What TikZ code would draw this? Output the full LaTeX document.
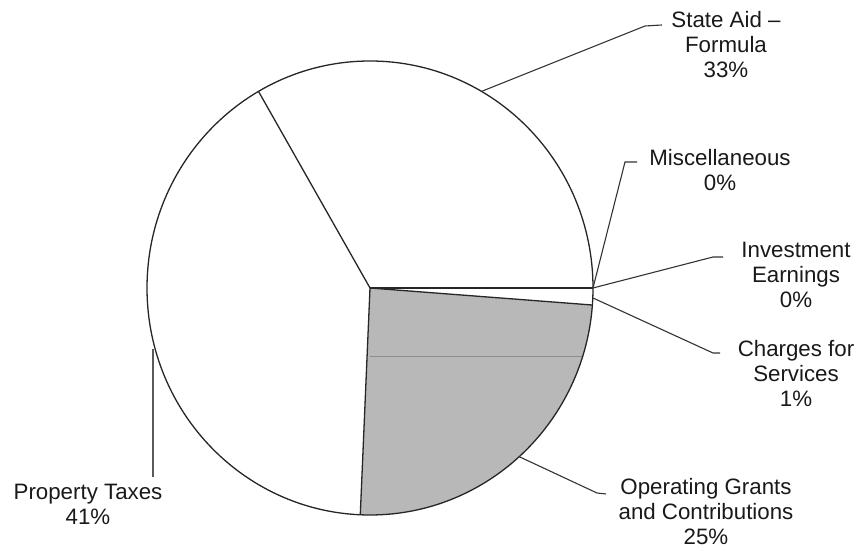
\documentclass[tikz,border=0pt]{standalone}
\usepackage{fontspec}
\setmainfont{Liberation Sans}
\begin{document}
\begin{tikzpicture}[x=1pt,y=1pt,
  lbl/.style={align=center,font=\fontsize{22.3pt}{25pt}\selectfont,text=black!90,inner sep=0pt},
  edge/.style={line width=1.3pt,black!85},
  lead/.style={line width=1.1pt,black!80}]
\useasboundingbox (0,0) rectangle (856,548);
\coordinate (C) at (370,260);
\def\rx{223}\def\ry{227}
% gray slice
\fill[black!28] (C) -- ({370+\rx*cos(267.5)},{260+\ry*sin(267.5)})
  arc[start angle=267.5,end angle=355.7,x radius=\rx,y radius=\ry] -- cycle;
\draw[black!45,line width=0.6pt] (C |- 0,192) coordinate (h1) -- (582.7,192) coordinate (h2);
% outline
\draw[edge] (C) ellipse[x radius=\rx,y radius=\ry];
% slice boundaries
\coordinate (p0) at ({370+\rx},260);
\coordinate (p120) at ({370+\rx*cos(120)},{260+\ry*sin(120)});
\coordinate (p267) at ({370+\rx*cos(267.5)},{260+\ry*sin(267.5)});
\coordinate (p356) at ({370+\rx*cos(355.7)},{260+\ry*sin(355.7)});
\draw[edge] (C) -- (p120);
\draw[edge] (C) -- (p267);
\draw[edge] (C) -- (p356);
\draw[line width=2pt,black!85] (C) -- (p0);
% labels
\node[lbl] (state) at (726,503) {State Aid –\\Formula\\33\%};
\node[lbl] (misc) at (720,378) {Miscellaneous\\0\%};
\node[lbl] (inv) at (796,273) {Investment\\Earnings\\0\%};
\node[lbl] (chg) at (796,175) {Charges for\\Services\\1\%};
\node[lbl] (opg) at (706,36) {Operating Grants\\and Contributions\\25\%};
\node[lbl] (prop) at (88,43.5) {Property Taxes\\41\%};
% leader lines
\coordinate (s0) at ({370+\rx*cos(60)},{260+\ry*sin(60)});
\coordinate (s1) at (645,522);
\coordinate (s2) at (662,523);
\draw[lead] (s0) -- (s1) -- (s2);
\coordinate (m0) at (593,260);
\coordinate (m1) at (625,386);
\coordinate (m2) at (637,386);
\draw[lead] (m0) -- (m1) -- (m2);
\coordinate (i1) at (713,291);
\coordinate (i2) at (723,291);
\draw[lead] (m0) -- (i1) -- (i2);
\coordinate (c0) at ({370+\rx*cos(357.5)},{260+\ry*sin(357.5)});
\coordinate (c1) at (713,195);
\coordinate (c2) at (720,195);
\draw[lead] (c0) -- (c1) -- (c2);
\coordinate (o0) at ({370+\rx*cos(-48)},{260+\ry*sin(-48)});
\coordinate (o1) at (597,55);
\coordinate (o2) at (606,54);
\draw[lead] (o0) -- (o1) -- (o2);
\coordinate (t0) at (153,199);
\coordinate (t1) at (153,71);
\draw[lead,black!65] (t0) -- (t1);
\end{tikzpicture}
\end{document}
